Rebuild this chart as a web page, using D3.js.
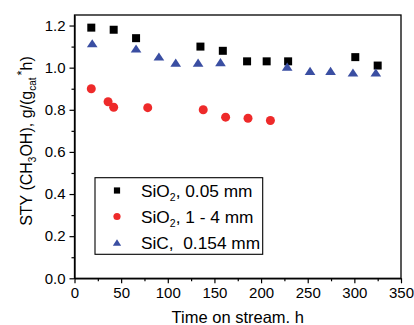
<!DOCTYPE html>
<html>
<head>
<meta charset="utf-8">
<script src="https://cdn.jsdelivr.net/npm/d3@7"></script>
<style>
  html, body { margin: 0; padding: 0; background: #fff; }
  svg { display: block; }
  text { font-family: "Liberation Sans", Arial, sans-serif; fill: #000; }
</style>
</head>
<body>
<svg id="chart" width="414" height="325"></svg>
<script>
// Methanol space-time yield versus time on stream for three diluent beds
const sio2FineTime = [18, 42, 66, 135, 159, 185, 206, 229, 301, 325];
const sio2FineSty  = [1.19, 1.18, 1.14, 1.10, 1.08, 1.03, 1.03, 1.03, 1.05, 1.01];

const sio2CoarseTime = [18, 36, 42, 78.5, 138, 162, 186, 210];
const sio2CoarseSty  = [0.90, 0.838, 0.812, 0.810, 0.800, 0.765, 0.760, 0.749];

const sicTime = [19, 66, 90.5, 108.5, 132.5, 156.5, 228, 252.5, 274.5, 298.5, 323];
const sicSty  = [1.116, 1.091, 1.053, 1.024, 1.024, 1.026, 1.005, 0.985, 0.985, 0.977, 0.977];

const xTicks = [0, 50, 100, 150, 200, 250, 300, 350];
const yTicks = [0.0, 0.2, 0.4, 0.6, 0.8, 1.0, 1.2];

const series = [
  { name: "fine",   time: sio2FineTime,   sty: sio2FineSty,   shape: "square",   color: "#000000" },
  { name: "coarse", time: sio2CoarseTime, sty: sio2CoarseSty, shape: "circle",   color: "#ee2a2a" },
  { name: "sic",    time: sicTime,        sty: sicSty,        shape: "triangle", color: "#3a4ea2" }
];

const W = 414, H = 325;
const margin = { top: 15, right: 13, bottom: 46.7, left: 74.5 };
const iw = W - margin.left - margin.right;
const ih = H - margin.top - margin.bottom;

const svg = d3.select("#chart");
const g = svg.append("g").attr("transform", `translate(${margin.left},${margin.top})`);

const x = d3.scaleLinear().domain([0, 350]).range([0, iw]);
const y = d3.scaleLinear().domain([0, 1.25]).range([ih, 0]);

// frame: plain top and right borders
g.append("rect")
  .attr("x", 0).attr("y", 0).attr("width", iw).attr("height", ih)
  .attr("fill", "none").attr("stroke", "#000").attr("stroke-width", 1.3);

// minor ticks
g.append("g")
  .attr("transform", `translate(0,${ih})`)
  .call(d3.axisBottom(x).tickValues(d3.range(25, 350, 50)).tickSize(3).tickFormat(""))
  .call(a => a.select(".domain").remove())
  .call(a => a.selectAll("line").attr("stroke-width", 1.2));
g.append("g")
  .call(d3.axisLeft(y).tickValues(d3.range(0.1, 1.25, 0.2)).tickSize(3).tickFormat(""))
  .call(a => a.select(".domain").remove())
  .call(a => a.selectAll("line").attr("stroke-width", 1.2));

// major axes
const xAxis = g.append("g")
  .attr("transform", `translate(0,${ih})`)
  .call(d3.axisBottom(x).tickValues(xTicks).tickSize(5).tickSizeOuter(0).tickPadding(4).tickFormat(d3.format("d")));
const yAxis = g.append("g")
  .call(d3.axisLeft(y).tickValues(yTicks).tickSize(5).tickSizeOuter(0).tickPadding(4).tickFormat(d3.format(".1f")));
[xAxis, yAxis].forEach(a => {
  a.select(".domain").attr("stroke-width", 1.3);
  a.selectAll(".tick line").attr("stroke-width", 1.2);
  a.selectAll(".tick text").attr("font-size", 15).attr("font-family", null);
});

// marker path generators (centred on the bounding box)
function markerPath(shape, s) {
  if (shape === "square") {
    const h = s / 2;
    return `M${-h},${-h}H${h}V${h}H${-h}Z`;
  }
  if (shape === "circle") {
    const r = s / 2;
    return `M${r},0A${r},${r} 0 1,1 ${-r},0A${r},${r} 0 1,1 ${r},0Z`;
  }
  const w = s * 1.3 / 2, hh = s / 2;
  return `M0,${-hh}L${w},${hh}L${-w},${hh}Z`;
}
const plotSize = { square: 8, circle: 9, triangle: 8.2 };
const legendSize = { square: 6.2, circle: 7.2, triangle: 6.4 };

series.forEach(s => {
  g.append("g").selectAll("path")
    .data(s.time.map((t, i) => [t, s.sty[i]]))
    .join("path")
    .attr("transform", d => `translate(${x(d[0])},${y(d[1])})`)
    .attr("d", markerPath(s.shape, plotSize[s.shape]))
    .attr("fill", s.color);
});

// legend
const legend = svg.append("g").attr("transform", "translate(95,177.7)");
legend.append("rect")
  .attr("width", 167.7).attr("height", 76.6)
  .attr("fill", "#fff").attr("stroke", "#000").attr("stroke-width", 1.1);

const legendLabels = [
  [{ t: "SiO" }, { t: "2", sub: true }, { t: ", 0.05 mm" }],
  [{ t: "SiO" }, { t: "2", sub: true }, { t: ", 1 - 4 mm" }],
  [{ t: "SiC,  0.154 mm" }]
];
series.forEach((s, i) => {
  const row = legend.append("g").attr("transform", `translate(0,${12.8 + i * 26})`);
  row.append("path")
    .attr("transform", "translate(22,0)")
    .attr("d", markerPath(s.shape, legendSize[s.shape]))
    .attr("fill", s.color);
  const txt = row.append("text").attr("x", 46).attr("y", 6.5).attr("font-size", 17.3)
    .style("white-space", "pre");
  legendLabels[i].forEach(part => {
    const ts = txt.append("tspan").text(part.t);
    if (part.sub) ts.attr("font-size", 10.5).attr("dy", 4);
    else if (txt.selectAll("tspan").size() > 1) ts.attr("dy", -4);
  });
});

// axis titles
svg.append("text")
  .attr("x", margin.left + iw / 2).attr("y", 323)
  .attr("text-anchor", "middle").attr("font-size", 16.5)
  .text("Time on stream. h");

const yl = svg.append("text")
  .attr("transform", "translate(32,141) rotate(-90)")
  .attr("text-anchor", "middle").attr("font-size", 16);
yl.append("tspan").text("STY (CH");
yl.append("tspan").text("3").attr("font-size", 10).attr("dy", 4);
yl.append("tspan").text("OH), g/(g").attr("dy", -4);
yl.append("tspan").text("cat").attr("font-size", 10).attr("dy", 4);
yl.append("tspan").text("*").attr("font-size", 13).attr("dy", -10).attr("dx", 2);
yl.append("tspan").text("h)").attr("dy", 6);
</script>
</body>
</html>
